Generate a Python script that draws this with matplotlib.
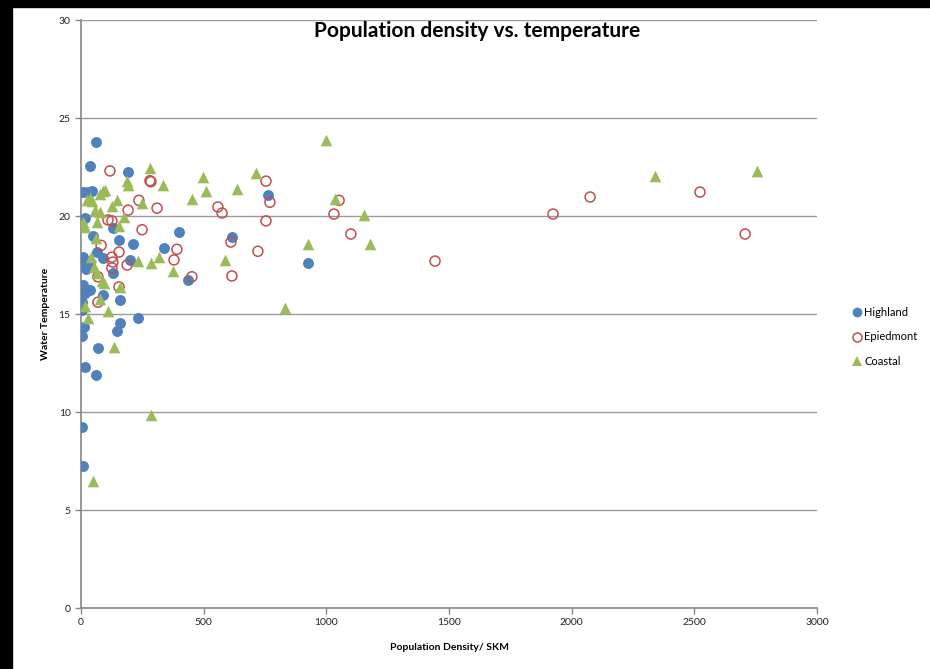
import matplotlib
matplotlib.use("Agg")
import matplotlib.pyplot as plt
from matplotlib.patches import Rectangle
from matplotlib.lines import Line2D

# values
highland_x = [61, 37, 192, 8, 29, 45, 16, 130, 49, 155, 212, 400, 338, 8, 65, 90, 200,
              37, 130, 8, 16, 37, 90, 159, 4, 159, 147, 232, 12, 4, 69, 16, 61, 4, 8,
              436, 615, 762, 926, 4, 4, 20]
highland_y = [23.78, 22.55, 22.24, 21.22, 21.22, 21.3, 19.9, 19.4, 18.98, 18.78, 18.57,
              19.18, 18.37, 17.9, 18.16, 17.86, 17.76, 17.5, 17.09, 16.48, 16.07, 16.22,
              15.97, 15.71, 15.6, 14.54, 14.13, 14.8, 14.34, 13.88, 13.27, 12.3, 11.89,
              9.23, 7.24, 16.73, 18.93, 21.07, 17.6, 17.6, 15.2, 17.3]

piedmont_x = [118, 281, 285, 236, 310, 192, 110, 126, 249, 82, 391, 155, 126, 130, 188,
              379, 126, 452, 155, 69, 69, 558, 575, 611, 615, 754, 770, 754, 721, 1052,
              1031, 1100, 1443, 1924, 2075, 2523, 2707]
piedmont_y = [22.3, 21.8, 21.75, 20.8, 20.4, 20.3, 19.8, 19.75, 19.3, 18.5, 18.3, 18.16,
              17.9, 17.65, 17.5, 17.76, 17.35, 16.9, 16.38, 15.6, 16.9, 20.46, 20.15,
              18.67, 16.94, 21.78, 20.7, 19.75, 18.2, 20.8, 20.1, 19.08, 17.7, 20.1,
              20.97, 21.22, 19.08]

coastal_x = [999, 281, 334, 497, 510, 452, 249, 636, 713, 1036, 1153, 1178, 926, 832, 587,
             375, 318, 285, 232, 135, 285, 49, 2340, 2756, 188, 192, 90, 98, 77, 37, 24,
             45, 126, 147, 77, 57, 16, 8, 65, 155, 175, 61, 41, 53, 65, 86, 94, 159, 16,
             77, 110, 29]
coastal_y = [23.9, 22.45, 21.6, 22.0, 21.28, 20.87, 20.66, 21.4, 22.2, 20.85, 20.05, 18.55,
             18.55, 15.3, 17.75, 17.2, 17.9, 17.6, 17.7, 13.3, 9.85, 6.48, 22.05, 22.28,
             21.8, 21.6, 21.25, 21.35, 21.1, 20.9, 20.8, 20.75, 20.5, 20.8, 20.2, 20.3,
             19.45, 19.7, 19.7, 19.5, 19.95, 18.9, 17.9, 17.4, 17.1, 16.7, 16.6, 16.4,
             15.4, 15.75, 15.15, 14.8]

x_ticks = [0, 500, 1000, 1500, 2000, 2500, 3000]
y_ticks = [0, 5, 10, 15, 20, 25, 30]

BLUE = "#4F81BD"
RED = "#C0504D"
GREEN = "#9BBB59"
GRID = "#9A9A9A"
AXIS = "#868686"

plt.rcParams['font.family'] = ['Lato', 'DejaVu Sans']

fig = plt.figure(figsize=(9.3, 6.69), dpi=100)
fig.patch.set_facecolor("white")

# black screenshot border (top and left)
fig.patches.append(Rectangle((0, 1 - 7 / 669), 1, 7 / 669, transform=fig.transFigure,
                             color="black", zorder=0))
fig.patches.append(Rectangle((0, 0), 12 / 930, 1, transform=fig.transFigure,
                             color="black", zorder=0))

ax = fig.add_axes([81 / 930, 1 - 608 / 669, (817 - 81) / 930, (608 - 20) / 669])

ax.scatter(highland_x, highland_y, s=62, marker="o", color=BLUE, linewidths=0, zorder=3)
ax.scatter(piedmont_x, piedmont_y, s=52, marker="o", facecolors="none", edgecolors=RED,
           linewidths=1.1, zorder=3)
ax.scatter(coastal_x, coastal_y, s=70, marker="^", color=GREEN, linewidths=0, zorder=3)

ax.set_xlim(0, 3000)
ax.set_ylim(0, 30)
ax.set_xticks(x_ticks)
ax.set_yticks(y_ticks)
ax.tick_params(axis="both", labelsize=7.5, colors=AXIS, labelcolor="#222222",
               length=4, width=1, direction="out")
ax.yaxis.grid(True, color=GRID, linewidth=1)
ax.set_axisbelow(True)
for side in ["top", "right"]:
    ax.spines[side].set_visible(False)
for side in ["left", "bottom"]:
    ax.spines[side].set_color(AXIS)
    ax.spines[side].set_linewidth(1.2)

ax.set_xlabel("Population Density/ SKM", fontsize=7.5, fontweight="bold", labelpad=11)
ax.set_ylabel("Water Temperature", fontsize=7.5, fontweight="bold", labelpad=6)

fig.text(477 / 930, 1 - 31 / 669, "Population density vs. temperature",
         fontsize=15, fontweight="bold", ha="center", va="center")

handles = [
    Line2D([], [], marker="o", linestyle="", markersize=7, color=BLUE, markeredgewidth=0),
    Line2D([], [], marker="o", linestyle="", markersize=6.5, markerfacecolor="none",
           markeredgecolor=RED, markeredgewidth=1.1),
    Line2D([], [], marker="^", linestyle="", markersize=7.5, color=GREEN, markeredgewidth=0),
]
fig.legend(handles, ["Highland", "Epiedmont", "Coastal"], loc="center left",
           bbox_to_anchor=(849 / 930, 1 - 337 / 669), frameon=False, fontsize=8,
           handlelength=0.6, handletextpad=0.35, labelspacing=1.2, borderaxespad=0)

fig.savefig("out.png", dpi=100, facecolor="white")
